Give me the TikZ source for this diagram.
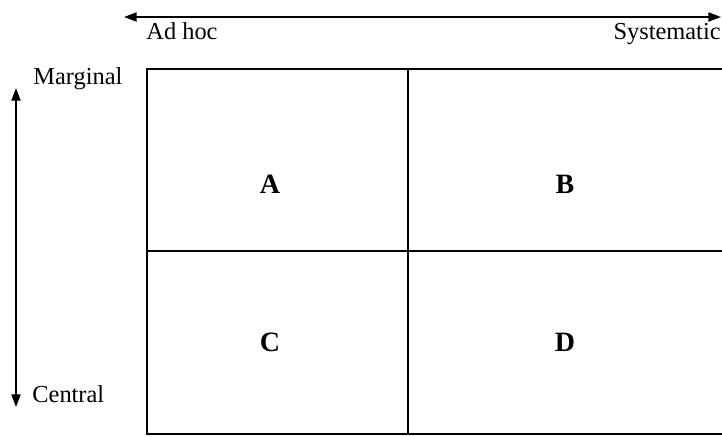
\documentclass[tikz,border=0pt]{standalone}
\usepackage{fontspec}
\setmainfont{Liberation Serif}
\usetikzlibrary{arrows.meta, positioning}

\begin{document}
\begin{tikzpicture}[x=0.5pt, y=-0.5pt,
    axis/.style={{Triangle[length=2.2mm, width=1.6mm]}-{Triangle[length=2.2mm, width=1.6mm]}, line width=0.7pt},
    cell/.style={line width=1pt},
    lab/.style={font=\fontsize{12.2}{14}\selectfont, inner sep=0pt},
    quad/.style={font=\fontsize{14}{16}\selectfont\bfseries, inner sep=0pt}]
    \useasboundingbox (0,0) rectangle (722,436);
    % axes
    \coordinate (hl) at (124,17);
    \coordinate (hr) at (721,17);
    \coordinate (vt) at (16,88);
    \coordinate (vb) at (16,407);
    \draw[axis] (hl) -- (hr);
    \draw[axis] (vt) -- (vb);
    \node[lab, anchor=base west] (adhoc) at (146,39) {Ad hoc};
    \node[lab, anchor=base east] (syst) at (721,39) {Systematic};
    \node[lab, anchor=base west] (marg) at (33,84) {Marginal};
    \node[lab, anchor=base west] (cent) at (32,402) {Central};
    % grid
    \coordinate (tl) at (147,69);
    \coordinate (tr) at (722,69);
    \coordinate (bl) at (147,434);
    \coordinate (br) at (722,434);
    \draw[cell] (tr) -- (tl) -- (bl) -- (br);
    \draw[cell] (408,69) -- (408,434);
    \draw[cell] (147,251) -- (722,251);
    \node[quad] (qa) at (270,184) {A};
    \node[quad] (qb) at (565,184) {B};
    \node[quad] (qc) at (270,342) {C};
    \node[quad] (qd) at (565,342) {D};
\end{tikzpicture}
\end{document}
